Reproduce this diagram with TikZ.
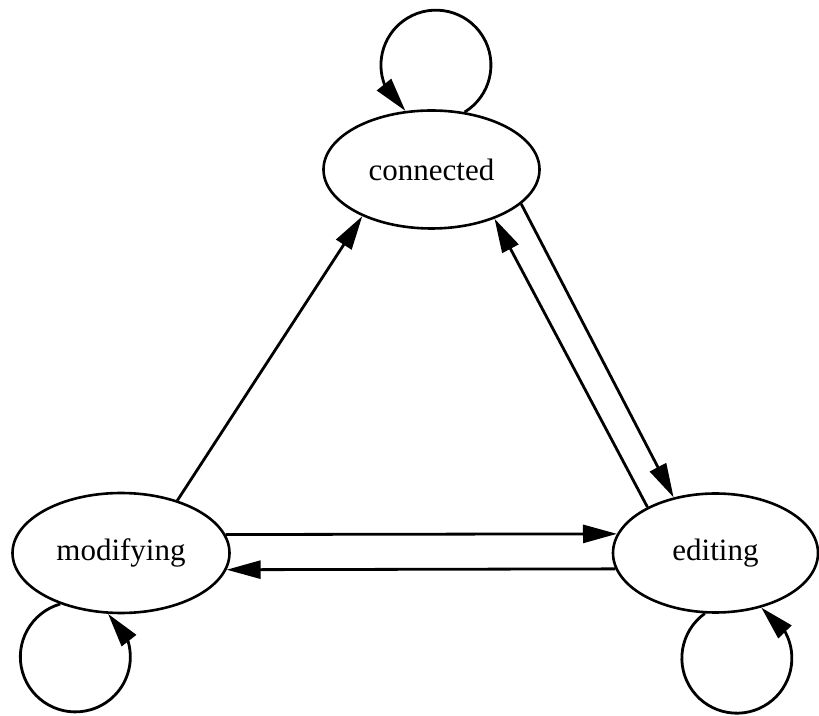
\documentclass[tikz,border=0pt]{standalone}
\usepackage{fontspec}
\setmainfont{Liberation Serif}
\usetikzlibrary{shapes.geometric,arrows.meta}

\begin{document}
\begin{tikzpicture}[x=1pt,y=1pt,
		state/.style={draw,ellipse,line width=2.6pt,inner sep=0pt,font=\fontsize{31}{37}\selectfont},
		edge/.style={line width=2.8pt,-{Triangle[length=34pt,width=18pt]}}]
			\useasboundingbox (0,0) rectangle (819,715);
			% the three states
			\node[state,minimum width=216pt,minimum height=118pt] (con) at (431.5,545.5) {connected};
			\node[state,minimum width=217pt,minimum height=120pt] (mod) at (121,162) {modifying};
			\node[state,minimum width=205pt,minimum height=119pt] (edi) at (715.5,162) {editing};
			% transitions
			\draw[edge] (mod.43.5) -- (con.214.9);
			\draw[edge] (con.339) -- (edi.127.6);
			\draw[edge] (edi.146.7) -- (con.322);
			\draw[edge] (mod.10.4) -- (edi.169);
			\draw[edge] (edi.189.15) -- (mod.351.4);
			% self loops, round arcs closed by the arrow part
			\draw[edge] (con.60) arc[start angle=-58.5,end angle=202,radius=55] -- (con.114);
			\draw[edge] (mod.220.4) arc[start angle=106,end angle=380,radius=55] -- (mod.258);
			\draw[edge] (edi.260) arc[start angle=125.6,end angle=388,radius=55] -- (edi.310);
		\end{tikzpicture}
\end{document}
